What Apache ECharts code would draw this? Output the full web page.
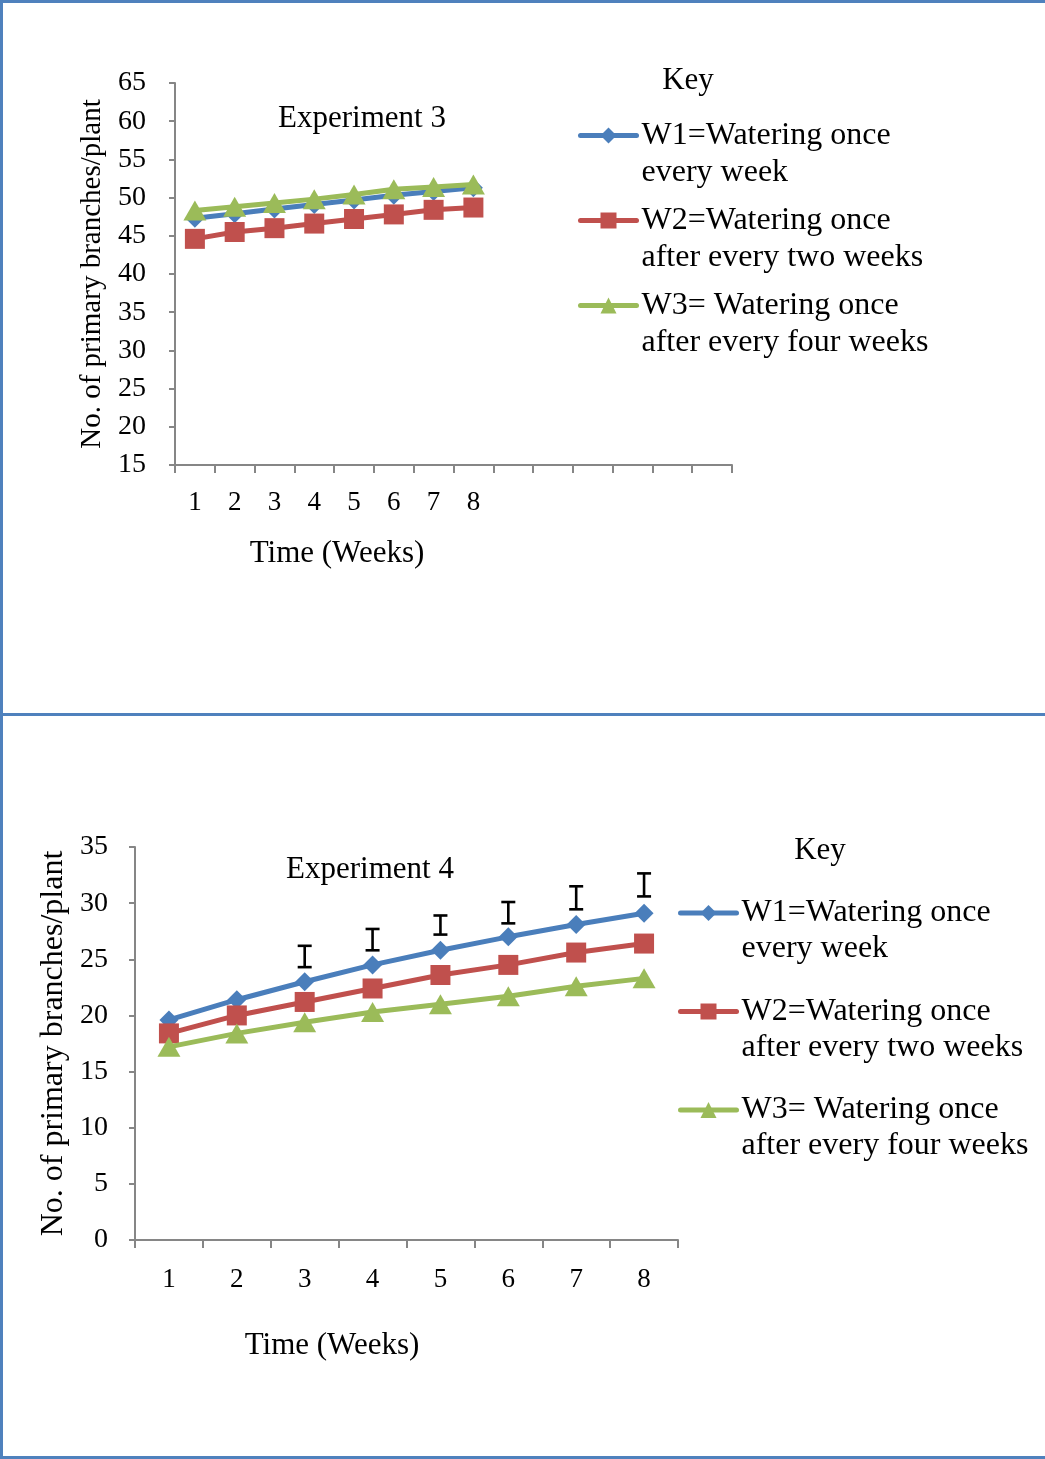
<!DOCTYPE html>
<html>
<head>
<meta charset="utf-8">
<script src="https://cdn.jsdelivr.net/npm/echarts@6/dist/echarts.min.js"></script>
<style>
  html, body { margin: 0; padding: 0; background: #ffffff; }
  #chart { width: 1045px; height: 1459px; }
</style>
</head>
<body>
<div id="chart"></div>
<script>
// Week labels (Experiment 3 axis carries extra empty slots to the right)
const weeks = ['1', '2', '3', '4', '5', '6', '7', '8'];
const weeksExp3Axis = ['1', '2', '3', '4', '5', '6', '7', '8', '', '', '', '', '', ''];

// Experiment 3: primary branches per plant
const exp3W1 = [47.3, 47.9, 48.5, 49.1, 49.7, 50.3, 50.8, 51.3];
const exp3W2 = [44.6, 45.5, 46.0, 46.6, 47.2, 47.8, 48.4, 48.7];
const exp3W3 = [48.3, 48.8, 49.3, 49.8, 50.4, 51.1, 51.4, 51.7];

// Experiment 4: primary branches per plant
const exp4W1 = [19.6, 21.4, 23.0, 24.5, 25.8, 27.0, 28.1, 29.1];
const exp4W2 = [18.4, 20.0, 21.2, 22.4, 23.6, 24.5, 25.6, 26.4];
const exp4W3 = [17.2, 18.4, 19.4, 20.3, 21.0, 21.7, 22.6, 23.3];

// Experiment 4 error bars (weeks 3-8): week index, lower end, upper end
const errWeekIdx = [2, 3, 4, 5, 6, 7];
const errLow  = [24.3, 25.8, 27.2, 28.2, 29.45, 30.6];
const errHigh = [26.2, 27.7, 28.9, 30.1, 31.5, 32.65];

// Treatments and their key texts
const treatments = ['W1', 'W2', 'W3'];
const keyLines = [
  ['W1=Watering once', 'every week'],
  ['W2=Watering once', 'after every two weeks'],
  ['W3= Watering once', 'after every four weeks']
];

// Y-axis ticks
const exp3Y = { min: 15, max: 65, step: 5 };
const exp4Y = { min: 0, max: 35, step: 5 };

const FONT = '"Liberation Serif", "Times New Roman", serif';
const AXIS_GREY = '#868686';
const COLORS = ['#4a7ebb', '#c0504d', '#9bbb59'];
const SYMBOLS = ['diamond', 'rect', 'triangle'];
const SYMBOL_SIZES = [19, 20, [23, 20]];

function lineSeries(name, idx, data, axisIndex) {
  return {
    type: 'line',
    name: name,
    xAxisIndex: axisIndex,
    yAxisIndex: axisIndex,
    data: data,
    symbol: SYMBOLS[idx],
    symbolSize: SYMBOL_SIZES[idx],
    showAllSymbol: true,
    color: COLORS[idx],
    lineStyle: { color: COLORS[idx], width: 5 },
    itemStyle: { color: COLORS[idx] },
    emphasis: { disabled: true },
    animation: false,
    z: 3 + idx
  };
}

function xAxisCfg(gridIndex, cats, margin) {
  return {
    type: 'category',
    gridIndex: gridIndex,
    data: cats,
    boundaryGap: true,
    axisLine: { lineStyle: { color: AXIS_GREY, width: 2 } },
    axisTick: { show: true, interval: 0, length: 8, lineStyle: { color: AXIS_GREY, width: 2 } },
    axisLabel: { interval: 0, color: '#000', fontFamily: FONT, fontSize: 27, margin: margin },
    splitLine: { show: false }
  };
}

function yAxisCfg(gridIndex, rng, nameSize, nameGap, margin) {
  return {
    type: 'value',
    gridIndex: gridIndex,
    min: rng.min,
    max: rng.max,
    interval: rng.step,
    name: 'No. of primary branches/plant',
    nameLocation: 'middle',
    nameRotate: 90,
    nameGap: nameGap,
    nameTextStyle: { color: '#000', fontFamily: FONT, fontSize: nameSize },
    axisLine: { show: true, lineStyle: { color: AXIS_GREY, width: 2 } },
    axisTick: { show: true, length: 6, lineStyle: { color: AXIS_GREY, width: 2 } },
    axisLabel: { color: '#000', fontFamily: FONT, fontSize: 28, margin: margin },
    splitLine: { show: false }
  };
}

// Key: the empty leading line keeps the first text line level with the swatch
function keyLegend(left, top, lineH, gap) {
  return {
    orient: 'vertical',
    left: left,
    top: top,
    padding: 0,
    itemGap: gap,
    itemWidth: 56,
    itemHeight: 20,
    selectedMode: false,
    data: treatments,
    lineStyle: { width: 5, cap: 'round' },
    formatter: function (name) {
      return '\n' + keyLines[treatments.indexOf(name)].join('\n');
    },
    textStyle: {
      color: '#000',
      fontFamily: FONT,
      fontSize: 32,
      lineHeight: lineH
    }
  };
}

function label(text, x, y, size) {
  return {
    type: 'text',
    x: x,
    y: y,
    style: {
      text: text,
      fill: '#000',
      font: size + 'px ' + FONT,
      align: 'center',
      verticalAlign: 'middle'
    },
    z: 10
  };
}

function borderLine(x, y, w, h) {
  return { type: 'rect', shape: { x: x, y: y, width: w, height: h }, style: { fill: '#4f81bd' }, z: 20 };
}

const errData = errWeekIdx.map(function (w, i) { return [w, errLow[i], errHigh[i]]; });

const option = {
  backgroundColor: '#ffffff',
  animation: false,
  grid: [
    { left: 175, top: 83, width: 557, height: 382 },
    { left: 135, top: 847, width: 543, height: 393 }
  ],
  xAxis: [xAxisCfg(0, weeksExp3Axis, 24), xAxisCfg(1, weeks, 26)],
  yAxis: [yAxisCfg(0, exp3Y, 29, 65, 29), yAxisCfg(1, exp4Y, 32, 64, 27)],
  legend: [keyLegend(578, 80, 37, -26), keyLegend(678, 859, 36, -9.5)],
  series: [
    lineSeries('W1', 0, exp3W1, 0),
    lineSeries('W2', 1, exp3W2, 0),
    lineSeries('W3', 2, exp3W3, 0),
    lineSeries('W1', 0, exp4W1, 1),
    lineSeries('W2', 1, exp4W2, 1),
    lineSeries('W3', 2, exp4W3, 1),
    {
      type: 'custom',
      name: 'error',
      xAxisIndex: 1,
      yAxisIndex: 1,
      data: errData,
      z: 8,
      renderItem: function (params, api) {
        const lo = api.coord([api.value(0), api.value(1)]);
        const hi = api.coord([api.value(0), api.value(2)]);
        const half = 7;
        const st = { stroke: '#000', lineWidth: 2.6 };
        return {
          type: 'group',
          children: [
            { type: 'line', shape: { x1: lo[0], y1: lo[1], x2: hi[0], y2: hi[1] }, style: st },
            { type: 'line', shape: { x1: lo[0] - half, y1: lo[1], x2: lo[0] + half, y2: lo[1] }, style: st },
            { type: 'line', shape: { x1: hi[0] - half, y1: hi[1], x2: hi[0] + half, y2: hi[1] }, style: st }
          ]
        };
      }
    }
  ],
  graphic: [
    label('Experiment 3', 362, 119, 31),
    label('Time (Weeks)', 337, 554, 31),
    label('Key', 688, 81, 31),
    label('Experiment 4', 370, 870, 31),
    label('Time (Weeks)', 332, 1346, 31),
    label('Key', 820, 851, 31),
    borderLine(0, 0, 1045, 3),
    borderLine(0, 0, 3, 1459),
    borderLine(0, 713, 1045, 3),
    borderLine(0, 1456, 1045, 3)
  ]
};

const chart = echarts.init(document.getElementById('chart'), null, { renderer: 'canvas' });
chart.setOption(option);
</script>
</body>
</html>
